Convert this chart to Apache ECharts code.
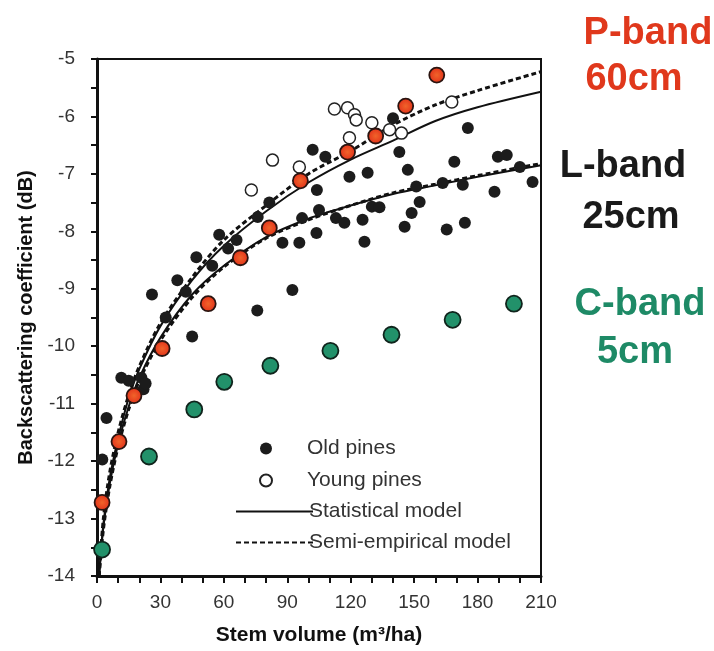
<!DOCTYPE html>
<html>
<head>
<meta charset="utf-8">
<script src="https://cdn.jsdelivr.net/npm/echarts@6/dist/echarts.min.js"></script>
<style>
html,body{margin:0;padding:0;background:#fff;}
#chart{width:714px;height:651px;}
</style>
</head>
<body>
<div id="chart"></div>
<script>
// ---- data ----
const oldPines = [[2.5,-11.97],[4.5,-11.25],[11.5,-10.55],[15,-10.6],[21,-10.55],[22,-10.75],[23,-10.65],[26,-9.1],[32.5,-9.5],[38,-8.85],[42,-9.05],[45,-9.83],[47,-8.45],[54.5,-8.6],[57.8,-8.06],[62,-8.3],[66,-8.15],[75.8,-9.38],[81.5,-7.5],[76,-7.75],[87.7,-8.2],[92.4,-9.02],[95.7,-8.2],[97,-7.77],[102,-6.58],[104,-7.28],[103.8,-8.03],[105,-7.63],[108,-6.7],[113,-7.77],[117,-7.85],[119.4,-7.05],[125.6,-7.8],[126.5,-8.18],[128,-6.98],[130,-7.57],[133.6,-7.58],[140,-6.03],[143,-6.62],[145.5,-7.92],[147,-6.93],[148.8,-7.68],[151,-7.22],[152.6,-7.49],[163.5,-7.16],[165.4,-7.97],[169,-6.79],[173,-7.19],[174,-7.85],[175.4,-6.2],[188,-7.31],[189.6,-6.7],[193.8,-6.67],[200,-6.88],[206,-7.14]];
const youngPines = [[73,-7.28],[83,-6.76],[95.7,-6.88],[112.3,-5.87],[118.5,-5.85],[121.8,-5.97],[122.6,-6.06],[119.4,-6.37],[130,-6.11],[138.4,-6.23],[144,-6.29],[167.8,-5.75]];
const pBand = [[2.4,-12.72],[10.4,-11.66],[17.5,-10.86],[30.8,-10.04],[52.6,-9.26],[67.8,-8.46],[81.5,-7.94],[96.2,-7.12],[118.5,-6.62],[131.8,-6.34],[146,-5.82],[160.7,-5.28]];
const cBand = [[2.4,-13.54],[24.6,-11.92],[46,-11.1],[60.2,-10.62],[82,-10.34],[110.4,-10.08],[139.3,-9.8],[168.2,-9.54],[197.2,-9.26]];
const curveX = [1,3,6,10,15,20,30,45,60,80,100,120,140,160,180,210];
const pStatY = [-14,-13.1,-12.3,-11.6,-10.9,-10.4,-9.65,-8.85,-8.25,-7.65,-7.15,-6.75,-6.42,-6.08,-5.84,-5.57];
const pSemiY = [-14,-13.0,-12.2,-11.5,-10.85,-10.35,-9.6,-8.8,-8.15,-7.55,-7.0,-6.6,-6.15,-5.8,-5.55,-5.22];
const lStatY = [-14,-13.15,-12.4,-11.7,-11.05,-10.55,-9.85,-9.1,-8.6,-8.1,-7.78,-7.55,-7.35,-7.2,-7.05,-6.85];
const lSemiY = [-14,-13.2,-12.45,-11.75,-11.1,-10.6,-9.9,-9.15,-8.62,-8.12,-7.8,-7.55,-7.33,-7.18,-7.03,-6.82];
const xTickLabels = [0,30,60,90,120,150,180,210];
const yTickLabels = [-14,-13,-12,-11,-10,-9,-8,-7,-6,-5];
const bandLabels = [
  {text: 'P-band', color: '#e0381c'}, {text: '60cm', color: '#e0381c'},
  {text: 'L-band', color: '#1a1a1a'}, {text: '25cm', color: '#1a1a1a'},
  {text: 'C-band', color: '#1e8a66'}, {text: '5cm', color: '#1e8a66'}
];

const zip = (xs, ys) => xs.map((x, i) => [x, ys[i]]);
const FONT = '"Liberation Sans", Arial, sans-serif';
const bandPos = [[648, 34], [634, 80], [623, 167], [631, 218], [640, 305], [635, 353]];

const chart = echarts.init(document.getElementById('chart'));
chart.setOption({
  animation: false,
  backgroundColor: '#fff',
  color: ['#111'],
  grid: {left: 97, right: 173, top: 59, bottom: 74, show: true, borderColor: '#111', borderWidth: 2, backgroundColor: 'transparent'},
  xAxis: {
    type: 'value', min: 0, max: 210, interval: 10,
    name: 'Stem volume (m³/ha)', nameLocation: 'middle', nameGap: 49,
    nameTextStyle: {fontFamily: FONT, fontSize: 21, fontWeight: 'bold', color: '#111'},
    axisLine: {show: true, lineStyle: {color: '#111', width: 3}},
    axisTick: {show: true, inside: false, length: 7, lineStyle: {color: '#111', width: 2}},
    axisLabel: {margin: 17, fontFamily: FONT, fontSize: 19, color: '#333',
      formatter: v => xTickLabels.includes(v) ? String(v) : ''},
    splitLine: {show: false}
  },
  yAxis: {
    type: 'value', min: -14, max: -5, interval: 0.5,
    name: 'Backscattering coefficient (dB)', nameLocation: 'middle', nameGap: 54, nameRotate: 90,
    nameTextStyle: {fontFamily: FONT, fontSize: 20, fontWeight: 'bold', color: '#111'},
    axisLine: {show: true, lineStyle: {color: '#111', width: 3}},
    axisTick: {show: true, inside: false, length: 6, lineStyle: {color: '#111', width: 2}},
    axisLabel: {margin: 22, fontFamily: FONT, fontSize: 19, color: '#333',
      formatter: v => yTickLabels.includes(v) ? String(v) : ''},
    splitLine: {show: false}
  },
  legend: [
    {data: ['Old pines', 'Young pines'], orient: 'vertical', left: 254, top: 433,
     itemWidth: 12, itemHeight: 12, itemGap: 11,
     textStyle: {fontFamily: FONT, fontSize: 21, color: '#333', padding: [0, 0, 0, 30]}},
    {data: ['Statistical model', 'Semi-empirical model'], orient: 'vertical', left: 230, top: 496,
     itemWidth: 77, itemHeight: 14, itemGap: 10,
     itemStyle: {opacity: 0},
     textStyle: {fontFamily: FONT, fontSize: 21, color: '#333', padding: [0, 0, 0, -9]}}
  ],
  series: [
    {name: 'Statistical model', type: 'line', data: zip(curveX, pStatY), smooth: 0.3, symbol: 'none', z: 2,
     itemStyle: {color: '#111'}, lineStyle: {color: '#111', width: 2}},
    {name: 'Semi-empirical model', type: 'line', data: zip(curveX, pSemiY), smooth: 0.3, symbol: 'none', z: 2,
     itemStyle: {color: '#111'}, lineStyle: {color: '#111', width: 3, type: [5, 3]}},
    {name: 'Statistical model', type: 'line', data: zip(curveX, lStatY), smooth: 0.3, symbol: 'none', z: 2,
     itemStyle: {color: '#111'}, lineStyle: {color: '#111', width: 2}},
    {name: 'Semi-empirical model', type: 'line', data: zip(curveX, lSemiY), smooth: 0.3, symbol: 'none', z: 2,
     itemStyle: {color: '#111'}, lineStyle: {color: '#111', width: 3, type: [5, 3]}},
    {name: 'Old pines', type: 'scatter', data: oldPines, symbol: 'circle', symbolSize: 12, z: 3,
     itemStyle: {color: '#1c1c1c', opacity: 1}},
    {name: 'Young pines', type: 'scatter', data: youngPines, symbol: 'circle', symbolSize: 12, z: 3,
     itemStyle: {color: '#fff', borderColor: '#222', borderWidth: 1.5, opacity: 1}},
    {name: 'P-band', type: 'scatter', data: pBand, symbol: 'circle', symbolSize: 15, z: 4,
     itemStyle: {color: {type: 'radial', x: 0.5, y: 0.5, r: 0.5, colorStops: [{offset: 0, color: '#f0642a'}, {offset: 1, color: '#e2301a'}]},
       borderColor: '#2a1410', borderWidth: 1.8, opacity: 1}},
    {name: 'C-band', type: 'scatter', data: cBand, symbol: 'circle', symbolSize: 16, z: 4,
     itemStyle: {color: '#22916a', borderColor: '#10241c', borderWidth: 1.8, opacity: 1}}
  ],
  graphic: bandLabels.map((b, i) => ({
    type: 'text', x: bandPos[i][0], y: bandPos[i][1],
    style: {text: b.text, font: 'bold 38px ' + FONT, fill: b.color, align: 'center', verticalAlign: 'middle'}
  }))
});
</script>
</body>
</html>
